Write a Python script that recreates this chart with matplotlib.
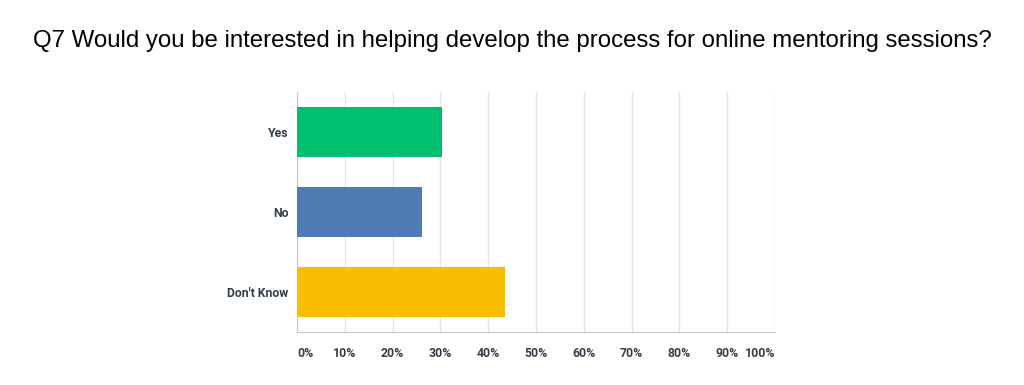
import numpy as np
import matplotlib.pyplot as plt

# Survey answers (share of respondents, %)
answers = ['Yes', 'No', "Don't Know"]
shares = [30.43, 26.09, 43.48]
colors = ['#00bf6f', '#507cb6', '#f9be00']
ticks = [0, 10, 20, 30, 40, 50, 60, 70, 80, 90, 100]
tick_labels = ['%d%%' % t for t in ticks]

fig = plt.figure(figsize=(10.24, 3.85), dpi=100)
ax = fig.add_axes([297 / 1024, 1 - 332 / 385, 478 / 1024, 240 / 385])

ypos = np.arange(len(answers))
ax.barh(ypos, shares, height=0.625, color=colors, zorder=3)

ax.set_xlim(0, 100)
ax.set_ylim(2.5, -0.5)
ax.set_xticks(ticks)
ax.set_xticklabels(tick_labels, fontfamily='Roboto', fontweight='bold',
                   fontsize=8.8, color='#333e48')
labels = ax.get_xticklabels()
labels[0].set_ha('left')
labels[-1].set_ha('right')
ax.set_yticks(ypos)
ax.set_yticklabels(answers, fontfamily='Roboto', fontweight='bold',
                   fontsize=8.8, color='#333e48')
ax.tick_params(axis='both', length=0)
ax.tick_params(axis='x', pad=11)
ax.tick_params(axis='y', pad=6)

ax.grid(axis='x', color='#e5e5e5', linewidth=1, zorder=0)
for s in ['top', 'right']:
    ax.spines[s].set_visible(False)
for s in ['left', 'bottom']:
    ax.spines[s].set_color('#c8c8c8')

fig.text(0.5, 1 - 41 / 385,
         'Q7 Would you be interested in helping develop the process for online mentoring sessions?',
         ha='center', va='center', fontsize=17.3, fontfamily='Liberation Sans', color='black')

fig.savefig('out.png', dpi=100)
